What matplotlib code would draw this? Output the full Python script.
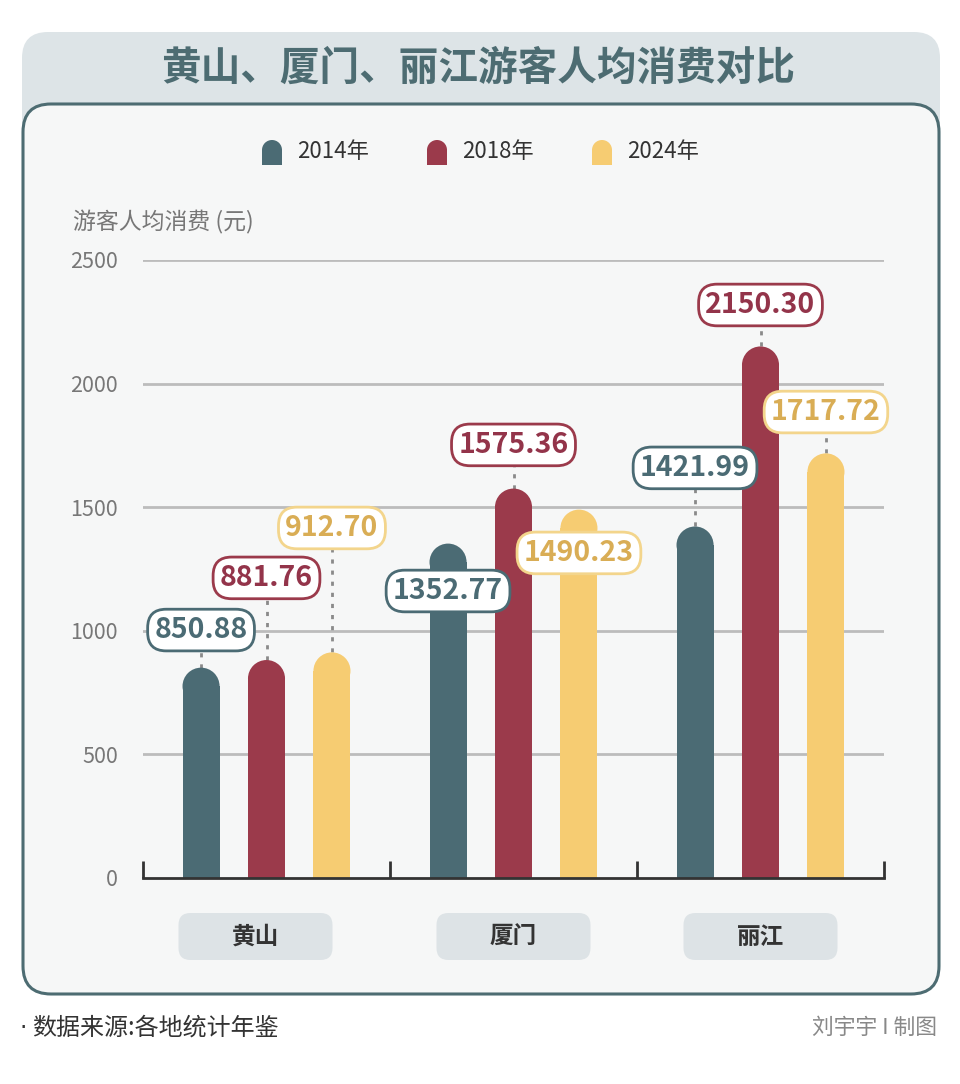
import numpy as np
import matplotlib.pyplot as plt
from matplotlib.patches import FancyBboxPatch, Rectangle, Ellipse

plt.rcParams['font.family'] = ['Noto Sans CJK SC', 'DejaVu Sans']

# data
cities = ['黄山', '厦门', '丽江']
years = ['2014年', '2018年', '2024年']
v2014 = [850.88, 1352.77, 1421.99]
v2018 = [881.76, 1575.36, 2150.30]
v2024 = [912.70, 1490.23, 1717.72]
series = [v2014, v2018, v2024]

# where each value tag sits (y, data units)
tag_y = [[1003, 1161, 1659],
         [1214, 1752, 2318],
         [1416, 1315, 1885]]

bar_colors = ['#4b6b74', '#9b3a4b', '#f6cc72']
txt_colors = ['#4b6b74', '#93344a', '#d9ad55']
edge_colors = ['#4b6b74', '#9b3a4b', '#f3d58c']
teal = '#4d6c72'

W, H = 960, 1084
fig = plt.figure(figsize=(W / 100, H / 100), dpi=100, facecolor='white')

# background canvas in pixel coordinates
bg = fig.add_axes([0, 0, 1, 1], zorder=-1)
bg.set_xlim(0, W)
bg.set_ylim(H, 0)
bg.axis('off')

bg.add_patch(FancyBboxPatch((22, 32), 918, 140,
                            boxstyle='round,pad=0,rounding_size=26',
                            fc='#dde4e7', ec='none'))
bg.add_patch(FancyBboxPatch((23, 104), 916, 890,
                            boxstyle='round,pad=0,rounding_size=28',
                            fc='#f6f7f7', ec=teal, lw=2.2))
bg.text(478, 68, '黄山、厦门、丽江游客人均消费对比', ha='center', va='center',
        fontsize=28.5, fontweight='bold', color=teal)

# legend
leg_x = [272, 437, 602]
for i, yr in enumerate(years):
    cx = leg_x[i]
    bg.add_patch(Rectangle((cx - 10, 150), 20, 15, fc=bar_colors[i], ec='none'))
    bg.add_patch(Ellipse((cx, 150), 20, 20, fc=bar_colors[i], ec='none'))
    bg.text(cx + 25, 152, yr, ha='left', va='center', fontsize=16, color='#333333')

bg.text(73, 222, '游客人均消费 (元)', ha='left', va='center', fontsize=16.5, color='#777777')

bg.text(20, 1028, '·', ha='left', va='center', fontsize=17, color='#333333', family='DejaVu Sans')
bg.text(32, 1028, '数据来源:各地统计年鉴', ha='left', va='center', fontsize=17.3, color='#333333')
bg.text(937, 1028, '刘宇宇 I 制图', ha='right', va='center', fontsize=15.7, color='#888888')

# main chart
x0, x1, y0, y1 = 143, 884, 878, 260
ax = fig.add_axes([x0 / W, (H - y0) / H, (x1 - x0) / W, (y0 - y1) / H])
ax.set_facecolor('none')
ax.set_xlim(0, 3)
ax.set_ylim(0, 2500)
for s in ['top', 'right', 'left']:
    ax.spines[s].set_visible(False)
ax.spines['bottom'].set_color('#333333')
ax.spines['bottom'].set_linewidth(2)
ax.spines['bottom'].set_zorder(5)
ax.set_xticks([0, 1, 2, 3])
ax.set_xticklabels([])
ax.tick_params(axis='x', direction='in', length=12, width=2, color='#333333')
ax.set_yticks([0, 500, 1000, 1500, 2000, 2500])
ax.tick_params(axis='y', length=0, pad=18, labelsize=15.5, labelcolor='#777777')
for t in [500, 1000, 1500, 2000, 2500]:
    ax.axhline(t, color='#bcbcbc', lw=2, zorder=0)

groups = np.arange(len(cities)) + 0.5
offsets = [-0.265, 0, 0.265]
bw = 0.15
px_x = (x1 - x0) / 3
px_y = (y0 - y1) / 2500
ry = (bw / 2) * px_x / px_y

for i, vals in enumerate(series):
    for g, v in enumerate(vals):
        xc = groups[g] + offsets[i]
        ax.add_patch(Rectangle((xc - bw / 2, 0), bw, v - ry, fc=bar_colors[i], ec='none', zorder=2))
        ax.add_patch(Ellipse((xc, v - ry), bw, 2 * ry, fc=bar_colors[i], ec='none', zorder=2))
        ty = tag_y[i][g]
        ax.plot([xc, xc], [v, ty], color='#8a8a8a', lw=2, ls=(0, (1.5, 2.5)), zorder=1)
        ax.text(xc, ty, f'{v:.2f}', ha='center', va='center', fontsize=20.5, fontweight='bold',
                color=txt_colors[i], zorder=4,
                bbox=dict(boxstyle='round,pad=0.24,rounding_size=0.65', fc='white',
                          ec=edge_colors[i], lw=2))

# category tags under axis
fig.canvas.draw()
cat_shift = [-11, 0, 0]
for g, name in enumerate(cities):
    px = ax.transData.transform((groups[g], 0))[0] + cat_shift[g]
    bg.add_patch(FancyBboxPatch((px - 77, 913), 154, 47,
                                boxstyle='round,pad=0,rounding_size=12',
                                fc='#dde3e6', ec='none'))
    bg.text(px, 937, name, ha='center', va='center', fontsize=17,
            fontweight='bold', color='#333333')

fig.savefig('out.png', dpi=100)
